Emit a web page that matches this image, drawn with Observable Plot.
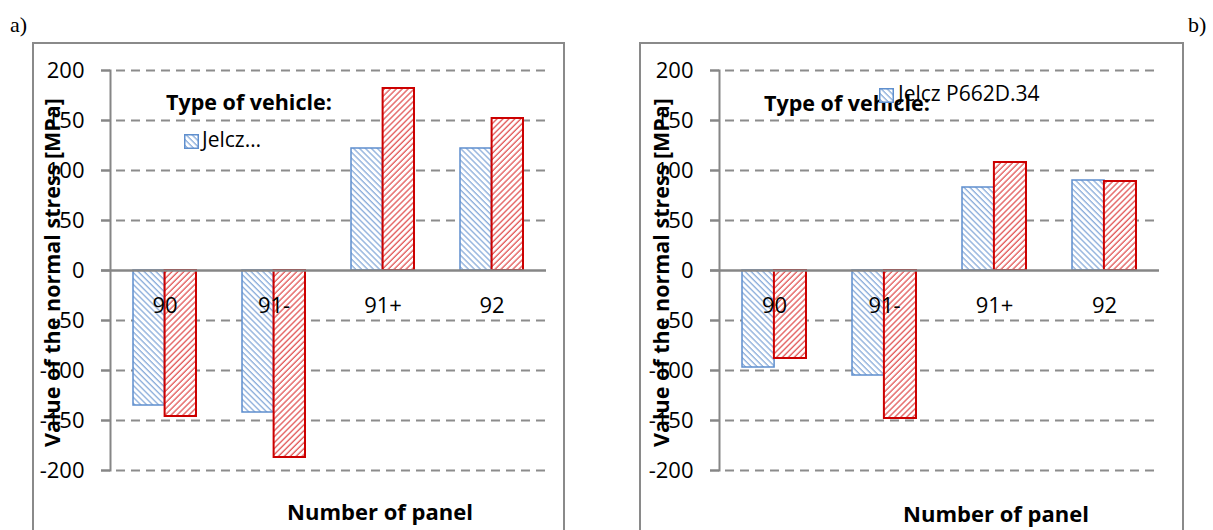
<!DOCTYPE html>
<html><head><meta charset="utf-8">
<script src="https://cdn.jsdelivr.net/npm/d3@7"></script>
<script src="https://cdn.jsdelivr.net/npm/@observablehq/plot@0.6"></script>
<style>
body{margin:0;background:#fff;width:1213px;height:530px;overflow:hidden;position:relative;font-family:"Open Sans",sans-serif;color:#000;}
.box{position:absolute;top:42px;border:2px solid #8a8a8a;border-bottom:none;height:520px;box-sizing:border-box;}
.abs{position:absolute;white-space:nowrap;line-height:1.2;transform:translateY(-50%);}
.plot{position:absolute;top:42px;}
</style></head><body>
<svg width="0" height="0" style="position:absolute">
  <defs>
    <pattern id="hatchBlue" patternUnits="userSpaceOnUse" width="4.2" height="4.2" patternTransform="rotate(-45)">
      <rect width="4.2" height="4.2" fill="#ffffff"/>
      <line x1="1" y1="0" x2="1" y2="4.2" stroke="#8fb0dc" stroke-width="1.4"/>
    </pattern>
    <pattern id="hatchRed" patternUnits="userSpaceOnUse" width="4.2" height="4.2" patternTransform="rotate(45)">
      <rect width="4.2" height="4.2" fill="#ffffff"/>
      <line x1="1" y1="0" x2="1" y2="4.2" stroke="#e35f5f" stroke-width="1.4"/>
    </pattern>
  </defs>
</svg>
<div id="root"></div>
<script>
// ---- data ----
const categories = ["90", "91-", "91+", "92"];
const seriesNames = ["Jelcz P662D.34", "Vehicle 2"];
const yTicks = [-200, -150, -100, -50, 0, 50, 100, 150, 200];
const panelA_jelcz = [-135, -142, 122, 122];
const panelA_second = [-146, -187, 182, 152];
const panelB_jelcz = [-97, -105, 83, 90];
const panelB_second = [-88, -148, 108, 89];
const panelLabels = ["a)", "b)"];
const yTitle = "Value of the normal stress [MPa]";
const xTitle = "Number of panel";
const legendTitle = "Type of vehicle:";
const legendEntries = ["Jelcz…", "Jelcz P662D.34"];

// ---- layout ----
const layouts = [
  {left: 32, width: 533, marginLeft: 78, marginRight: 19, xTitleX: 380, xTitleY: 511,
   legTitle: [166, 102], legIcon: [184, 134], legText: [202, 140], panelLabel: [10, 25]},
  {left: 639, width: 545, marginLeft: 80, marginRight: 25, xTitleX: 996, xTitleY: 513,
   legTitle: [764, 103], legIcon: [879, 88], legText: [898, 94], panelLabel: [1188, 25]}
];
const padInner = 0.42, padOuter = 0.21;
const root = document.getElementById("root");

function makePanel(vals1, vals2, L) {
  const data = categories.flatMap((c, i) => [
    {cat: c, s: seriesNames[0], v: vals1[i]},
    {cat: c, s: seriesNames[1], v: vals2[i]}
  ]);
  const plotW = L.width - L.marginLeft - L.marginRight;
  const bw = plotW / categories.length * (1 - padInner);
  const p = Plot.plot({
    width: L.width, height: 488,
    marginLeft: L.marginLeft, marginRight: L.marginRight, marginTop: 28, marginBottom: 60,
    style: {fontFamily: "Open Sans", background: "transparent", overflow: "visible"},
    x: {domain: categories, paddingInner: padInner, paddingOuter: padOuter, axis: null},
    y: {domain: [-200, 200]},
    marks: [
      Plot.ruleY(yTicks.filter(d => d !== 0), {stroke: "#8c8c8c", strokeWidth: 2, strokeDasharray: "9,6", insetLeft: -9}),
      Plot.barY(data.filter(d => d.s === seriesNames[0]), {x: "cat", y: "v", fill: "url(#hatchBlue)", stroke: "#5f8fce", strokeWidth: 1.5, insetRight: bw / 2}),
      Plot.barY(data.filter(d => d.s === seriesNames[1]), {x: "cat", y: "v", fill: "url(#hatchRed)", stroke: "#cc0000", strokeWidth: 2, insetLeft: bw / 2}),
      Plot.ruleY([0], {stroke: "#868686", strokeWidth: 2.5, insetLeft: -9}),
      Plot.frame({anchor: "left", stroke: "#868686", strokeWidth: 2}),
      Plot.axisY({ticks: yTicks, tickSize: 9, tickPadding: 17, tickFormat: d => String(d), fontSize: 22, stroke: "#868686", strokeWidth: 2, fill: "#000", label: null}),
      Plot.text(categories, {x: d => d, y: 0, dy: 35, fontSize: 22, fill: "#000"}),
      Plot.text([yTitle], {frameAnchor: "left", textAnchor: "middle", rotate: -90, dx: -57, dy: 2, fontSize: 21.5, fontWeight: "bold", fill: "#000"})
    ]
  });
  p.classList.add("plot");
  p.style.left = L.left + "px";
  return p;
}

const panels = [[panelA_jelcz, panelA_second], [panelB_jelcz, panelB_second]];
panels.forEach(([a, b], k) => {
  const L = layouts[k];
  const box = document.createElement("div");
  box.className = "box";
  box.style.left = L.left + "px";
  box.style.width = L.width + "px";
  root.appendChild(box);
  root.appendChild(makePanel(a, b, L));

  const add = (txt, x, y, css) => {
    const el = document.createElement("div");
    el.className = "abs";
    el.textContent = txt;
    el.style.left = x + "px";
    el.style.top = y + "px";
    Object.assign(el.style, css || {});
    root.appendChild(el);
    return el;
  };
  add(legendTitle, L.legTitle[0], L.legTitle[1], {fontWeight: "bold", fontSize: "21.5px"});
  const icon = document.createElementNS("http://www.w3.org/2000/svg", "svg");
  icon.setAttribute("width", 15); icon.setAttribute("height", 15);
  icon.style.position = "absolute";
  icon.style.left = L.legIcon[0] + "px"; icon.style.top = L.legIcon[1] + "px";
  icon.innerHTML = '<rect x="0.75" y="0.75" width="13.5" height="13.5" fill="url(#hatchBlue)" stroke="#5f8fce" stroke-width="1.5"/>';
  root.appendChild(icon);
  add(legendEntries[k], L.legText[0], L.legText[1], {fontSize: "21px"});
  const xt = add(xTitle, L.xTitleX, L.xTitleY, {fontWeight: "bold", fontSize: "22px"});
  xt.style.transform = "translate(-50%,-50%)";
  add(panelLabels[k], L.panelLabel[0], L.panelLabel[1], {fontFamily: "'Liberation Serif', serif", fontSize: "22px"});
});
</script>
</body></html>
